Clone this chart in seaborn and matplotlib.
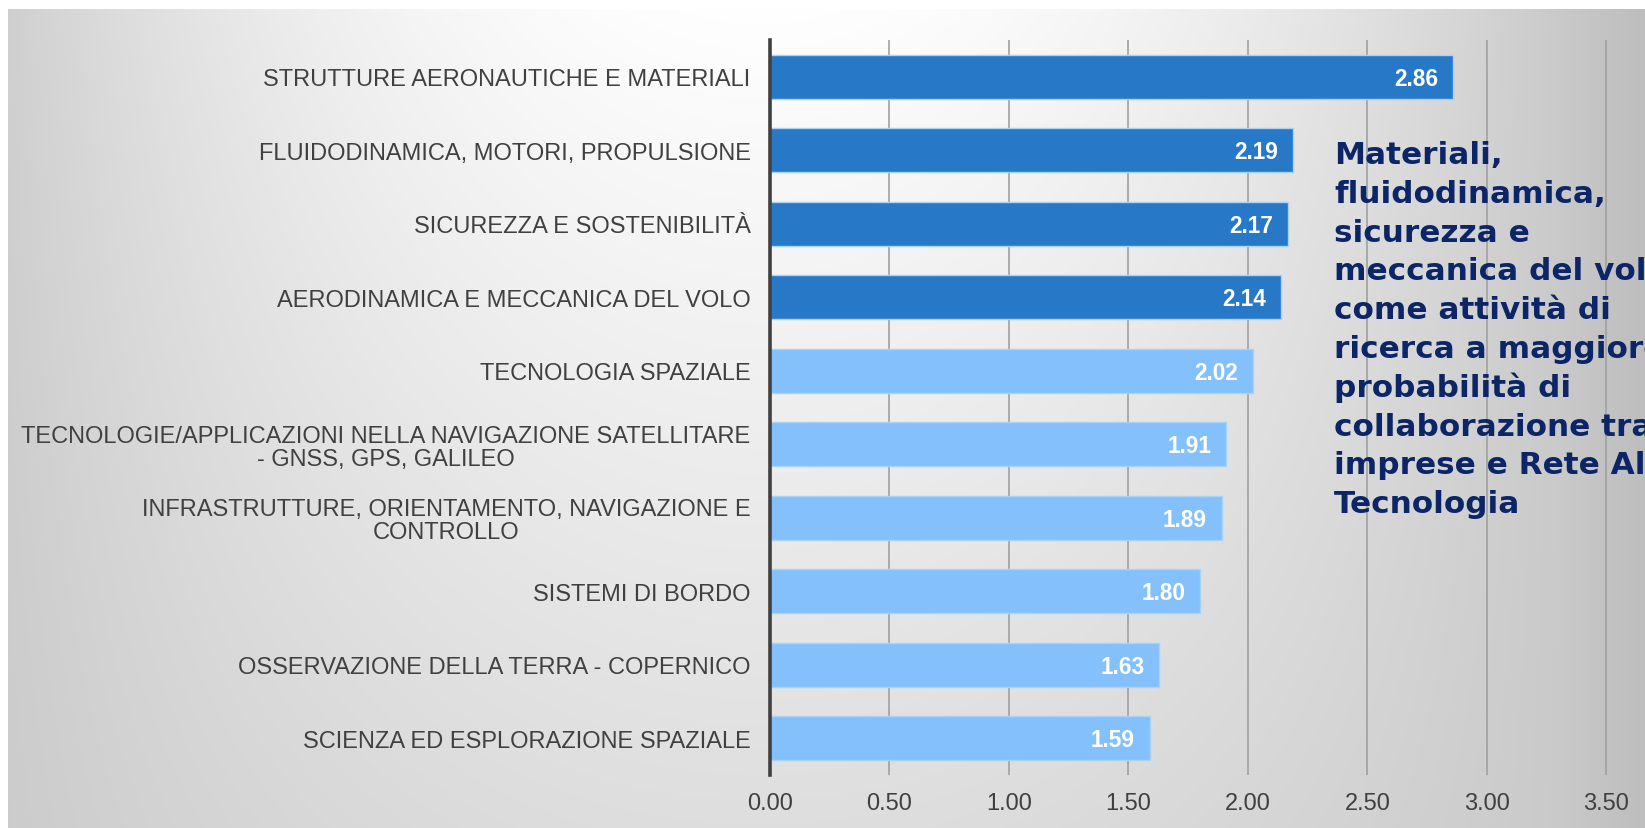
import numpy as np
import pandas as pd
import matplotlib
matplotlib.use("Agg")
import matplotlib.pyplot as plt
import seaborn as sns

# data
categories = [
    "STRUTTURE AERONAUTICHE E MATERIALI",
    "FLUIDODINAMICA, MOTORI, PROPULSIONE",
    "SICUREZZA E SOSTENIBILITÀ",
    "AERODINAMICA E MECCANICA DEL VOLO",
    "TECNOLOGIA SPAZIALE",
    "TECNOLOGIE/APPLICAZIONI NELLA NAVIGAZIONE SATELLITARE\n- GNSS, GPS, GALILEO",
    "INFRASTRUTTURE, ORIENTAMENTO, NAVIGAZIONE E\nCONTROLLO",
    "SISTEMI DI BORDO",
    "OSSERVAZIONE DELLA TERRA - COPERNICO",
    "SCIENZA ED ESPLORAZIONE SPAZIALE",
]
scores = [2.86, 2.19, 2.17, 2.14, 2.02, 1.91, 1.89, 1.80, 1.63, 1.59]
highlight = [True, True, True, True, False, False, False, False, False, False]
x_ticks = [0.0, 0.5, 1.0, 1.5, 2.0, 2.5, 3.0, 3.5]

note_lines = [
    "Materiali,",
    "fluidodinamica,",
    "sicurezza e",
    "meccanica del volo",
    "come attività di",
    "ricerca a maggiore",
    "probabilità di",
    "collaborazione tra",
    "imprese e Rete Alta",
    "Tecnologia",
]

DARK = "#2878c8"
LIGHT = "#84c1fc"
TEXT = "#404040"
NAVY = "#0b2566"

df = pd.DataFrame({"categoria": categories, "punteggio": scores})
colors = [DARK if h else LIGHT for h in highlight]

W, H = 1645, 829
fig = plt.figure(figsize=(W / 100, H / 100), dpi=100)

# background: white strip on top, grey gradient panel below
bg = fig.add_axes([0, 0, 1, 1], zorder=-10)
bg.set_axis_off()
yy, xx = np.mgrid[0:H, 0:W]
dx2 = ((xx - 760) / 800.0) ** 2
shade = 1.0 - 0.21 * dx2 - 0.13 * (yy / H) * np.clip(1 - dx2, 0, 1)
shade = np.clip(shade, 0.745, 1.0)
shade[:10, :] = 1.0
shade[:, :8] = 1.0
img = np.dstack([shade, shade, shade])
bg.imshow(img, extent=[0, W, H, 0], aspect="auto", interpolation="bilinear")
bg.set_xlim(0, W)
bg.set_ylim(H, 0)

ax = fig.add_axes([770 / W, 1 - 776 / H, (1607 - 770) / W, (776 - 41) / H])
ax.patch.set_alpha(0)

sns.barplot(
    data=df,
    x="punteggio",
    y="categoria",
    hue="categoria",
    palette=colors,
    saturation=1,
    legend=False,
    width=0.6,
    edgecolor="#a9d3f5",
    linewidth=1.0,
    ax=ax,
    zorder=3,
)

ax.set_xlim(0, 3.503)
ax.set_ylim(9.5, -0.5)
ax.set_xticks(x_ticks)
ax.set_xticklabels([f"{t:.2f}" for t in x_ticks])
ax.grid(axis="x", color="#a0a0a0", linewidth=1.2, zorder=0)
ax.grid(axis="y", visible=False)
ax.set_axisbelow(True)
for s in ["top", "right", "bottom"]:
    ax.spines[s].set_visible(False)
ax.spines["left"].set_color("#404040")
ax.spines["left"].set_linewidth(2.6)
ax.spines["left"].set_zorder(5)
ax.tick_params(axis="both", length=0, colors=TEXT)
ax.tick_params(axis="y", pad=14)
ax.tick_params(axis="x", pad=12)
ax.set_xlabel("")
ax.set_ylabel("")

for lab in ax.get_yticklabels():
    lab.set_fontfamily("Liberation Sans")
    lab.set_fontsize(17)
    lab.set_multialignment("center")
    lab.set_linespacing(1.05)
for lab in ax.get_xticklabels():
    lab.set_fontfamily("Liberation Sans")
    lab.set_fontsize(17)

for i, v in enumerate(scores):
    ax.text(v - 0.063, i + 0.02, f"{v:.2f}", ha="right", va="center",
            color="white", fontsize=16.3, fontweight="bold",
            family="Liberation Sans", zorder=6)

# side note, one line per row, cut at the right edge like the slide
for i, line in enumerate(note_lines):
    fig.text(1334 / W, 1 - (164 + i * 38.8) / H, line, ha="left",
             va="baseline", color=NAVY, fontsize=22.4, fontweight="bold",
             family="DejaVu Sans")

fig.savefig("out.png", dpi=100)
plt.close(fig)
